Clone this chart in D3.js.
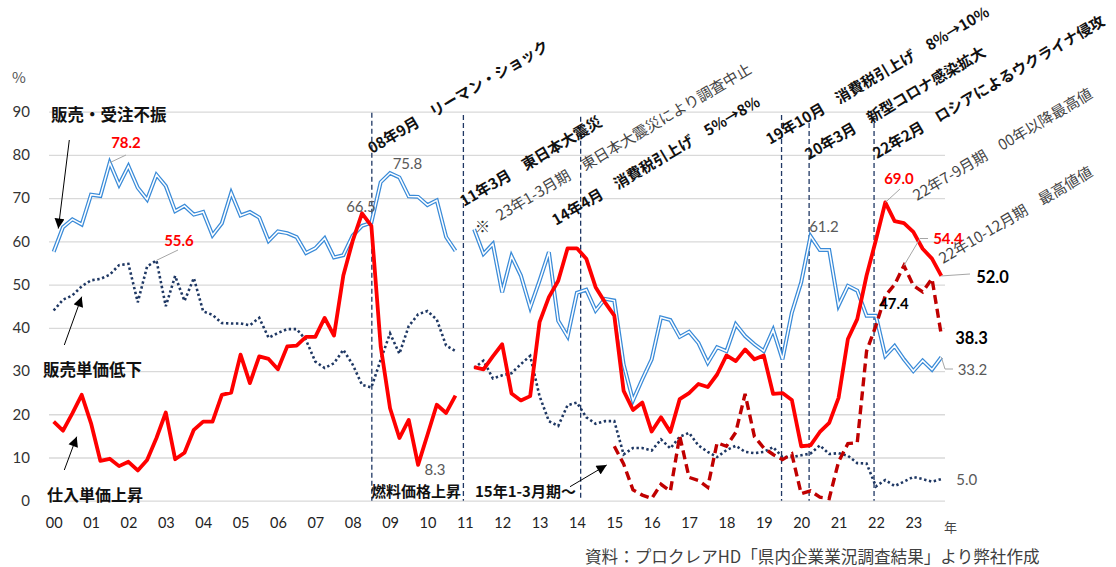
<!DOCTYPE html>
<html>
<head>
<meta charset="utf-8">
<script src="https://cdn.jsdelivr.net/npm/d3@7"></script>
<style>
  body { margin: 0; background: #fff; }
  svg { display: block; }
  text { font-family: "Noto Sans CJK JP", "Noto Sans", sans-serif; }
  .num { font-family: Lato, "Open Sans", sans-serif; }
</style>
</head>
<body>
<svg id="chart" width="1116" height="567"></svg>
<script>
// Quarterly survey results, 2000 Q1 – 2023 Q4 (96 quarters). null = survey not held (2011 Q1).
const years = ["00","01","02","03","04","05","06","07","08","09","10","11",
               "12","13","14","15","16","17","18","19","20","21","22","23"];
const yTicks = [0, 10, 20, 30, 40, 50, 60, 70, 80, 90];

// 販売・受注不振
const salesSlump = [
  57.6, 63.3, 65.1, 63.9, 70.8, 70.5, 78.2, 73.1, 77.4, 72.4,
  69.7, 75.4, 72.8, 67.0, 68.2, 66.2, 66.8, 61.4, 64.2, 71.2,
  66.0, 66.8, 65.5, 60.1, 62.3, 61.9, 61.0, 57.3, 58.4, 60.7,
  56.3, 56.8, 61.3, 63.6, 64.3, 73.7, 75.8, 74.8, 70.4, 70.3,
  68.4, 69.5, 61.0, 57.8, null, 62.8, 57.1, 59.4, 48.2, 56.6,
  52.1, 44.7, 50.9, 57.5, 41.6, 38.0, 48.1, 48.8, 44.0, 46.7,
  46.3, 31.5, 23.2, 28.1, 32.7, 42.4, 41.8, 37.9, 39.1, 36.5,
  31.9, 35.5, 34.6, 40.8, 38.1, 36.2, 34.6, 39.5, 32.7, 43.5,
  50.5, 61.2, 58.0, 58.0, 45.2, 49.7, 48.6, 42.8, 42.8, 33.5,
  35.8, 32.7, 30.0, 32.4, 30.3, 33.2
];

// 販売単価低下
const priceDrop = [
  44.0, 46.5, 47.5, 49.6, 51.0, 51.3, 52.3, 54.5, 54.8, 45.9,
  54.2, 55.6, 45.0, 52.0, 46.2, 51.5, 43.8, 43.0, 41.1, 41.0,
  41.0, 40.6, 42.3, 37.7, 38.8, 39.7, 39.7, 37.2, 32.2, 30.7,
  31.8, 34.9, 31.5, 26.8, 26.2, 32.6, 38.7, 34.0, 40.4, 43.1,
  43.9, 41.9, 35.9, 34.6, null, 30.7, 32.4, 28.3, 29.0, 29.5,
  31.6, 33.5, 24.2, 18.4, 17.3, 22.1, 22.7, 19.3, 17.8, 18.4,
  18.4, 10.7, 12.2, 12.2, 11.6, 14.2, 12.1, 14.8, 15.7, 12.8,
  11.3, 10.1, 11.7, 12.7, 11.3, 11.0, 11.3, 12.4, 10.1, 10.1,
  10.5, 10.9, 12.8, 10.8, 11.0, 10.4, 8.7, 8.6, 3.3, 4.8,
  3.4, 4.4, 5.5, 5.0, 4.4, 5.0
];

// 仕入単価上昇
const inputCost = [
  18.3, 16.2, 20.2, 24.5, 17.9, 9.2, 9.7, 8.0, 9.0, 7.0,
  9.4, 14.5, 20.4, 9.6, 11.1, 16.4, 18.3, 18.3, 24.5, 25.0,
  33.8, 27.2, 33.4, 32.8, 30.4, 35.7, 35.9, 37.9, 37.9, 42.3,
  38.2, 52.1, 60.1, 66.5, 63.6, 35.7, 21.4, 14.5, 18.7, 8.3,
  15.2, 22.2, 20.3, 24.3, null, 30.9, 30.4, 33.4, 36.2, 24.8,
  23.2, 24.2, 41.3, 47.1, 50.9, 58.4, 58.4, 56.0, 49.4, 45.9,
  42.8, 25.4, 21.0, 22.7, 16.0, 19.3, 15.9, 23.5, 24.9, 27.0,
  26.3, 29.2, 33.6, 32.3, 35.0, 32.7, 33.6, 24.7, 24.9, 23.3,
  12.6, 12.8, 15.9, 18.0, 23.8, 37.4, 42.0, 52.1, 60.3, 69.0,
  64.7, 64.2, 62.2, 58.3, 56.0, 52.0
];

// 仕入単価上昇（15年1-3月期～の系列）, first value is 2015 Q1
const inputCost15Start = 60;
const inputCost15 = [
  12.6, 8.5, 2.5, 1.3, 0.5, 3.8, 2.2, 15.0, 5.4, 4.7,
  3.1, 13.4, 12.6, 15.8, 24.7, 14.8, 12.2, 10.7, 9.5, 10.8,
  1.6, 2.3, 0.8, 0.5, 9.0, 13.2, 13.4, 34.6, 40.5, 47.4,
  50.0, 54.4, 49.8, 48.3, 51.4, 38.3
];

// Events, as a position in quarters counted from 2000 Q1
const eventQ = [34.05, 43.85, 56.4, 77.9, 80.85, 87.8];

const svg = d3.select("#chart");
const x = d3.scaleLinear().domain([-0.5, 95.5]).range([49, 946]);
const y = d3.scaleLinear().domain([0, 90]).range([500.7, 111.7]);

// ---- grid + y axis
const yAxis = svg.append("g")
  .attr("transform", "translate(49,0)")
  .call(d3.axisLeft(y).tickValues(yTicks).tickSize(-896).tickPadding(19).tickFormat(d3.format("d")));
yAxis.select(".domain").remove();
yAxis.selectAll(".tick line").attr("stroke", "#d9d9d9").attr("stroke-width", 1.3);
yAxis.selectAll(".tick text").attr("class", "num").attr("font-size", 15).attr("fill", "#333");

// ---- x axis (year labels at each Q1)
const xAxis = svg.append("g")
  .attr("transform", `translate(0,${y(0)})`)
  .call(d3.axisBottom(x).tickValues(d3.range(0, 96, 4)).tickSize(0).tickPadding(17)
        .tickFormat((d, i) => years[i]));
xAxis.select(".domain").remove();
xAxis.selectAll(".tick text").attr("class", "num").attr("font-size", 14.5).attr("fill", "#222");

svg.append("text").attr("x", 12).attr("y", 83).attr("font-size", 15).attr("fill", "#555").text("%");
svg.append("text").attr("x", 944).attr("y", 532).attr("font-size", 13).attr("fill", "#444").text("年");

// ---- event lines
const eventTop = [112.7, 115, 116.7, 115, 123, 123];
svg.append("g").selectAll("line").data(eventQ).join("line")
  .attr("x1", d => x(d)).attr("x2", d => x(d))
  .attr("y1", (d, i) => eventTop[i]).attr("y2", y(0))
  .attr("stroke", "#203864").attr("stroke-width", 1.3).attr("stroke-dasharray", "5,3");

// ---- series
const line = d3.line().defined(d => d[1] != null).x(d => x(d[0])).y(d => y(d[1]));
const pts = arr => arr.map((v, i) => [i, v]);

// double blue line
svg.append("path").datum(pts(salesSlump)).attr("d", line)
  .attr("fill", "none").attr("stroke", "#3a8bd8").attr("stroke-width", 4).attr("stroke-linejoin", "miter");
svg.append("path").datum(pts(salesSlump)).attr("d", line)
  .attr("fill", "none").attr("stroke", "#fff").attr("stroke-width", 1.5).attr("stroke-linejoin", "miter");

svg.append("path").datum(pts(priceDrop)).attr("d", line)
  .attr("fill", "none").attr("stroke", "#1f3864").attr("stroke-width", 2.6)
  .attr("stroke-dasharray", "2.4,2.6");

svg.append("path").datum(pts(inputCost)).attr("d", line)
  .attr("fill", "none").attr("stroke", "#ff0000").attr("stroke-width", 3.8).attr("stroke-linejoin", "round");

svg.append("path").datum(inputCost15.map((v, i) => [i + inputCost15Start, v])).attr("d", line)
  .attr("fill", "none").attr("stroke", "#c00000").attr("stroke-width", 3.4)
  .attr("stroke-dasharray", "9,5");

// ---- arrows
const defs = svg.append("defs");
defs.append("marker").attr("id", "ah").attr("viewBox", "0 0 10 10")
  .attr("refX", 10).attr("refY", 5).attr("markerWidth", 11).attr("markerHeight", 10)
  .attr("markerUnits", "userSpaceOnUse").attr("orient", "auto")
  .append("path").attr("d", "M0,0 L10,5 L0,10 Z").attr("fill", "#000");

const arrows = [
  [69.3, 140, 58.3, 228.5],
  [64.3, 345, 81.7, 296.7],
  [64.3, 470, 76.7, 436.7],
  [570, 486.7, 606.7, 465]
];
svg.append("g").selectAll("line").data(arrows).join("line")
  .attr("x1", d => d[0]).attr("y1", d => d[1]).attr("x2", d => d[2]).attr("y2", d => d[3])
  .attr("stroke", "#000").attr("stroke-width", 1).attr("marker-end", "url(#ah)");

// ---- series names
const names = [
  ["販売・受注不振", 51, 113.5, 16.5],
  ["販売単価低下", 43, 369, 16.5],
  ["仕入単価上昇", 47, 494, 16],
  ["燃料価格上昇", 371, 490.5, 15],
  ["15年1-3月期～", 475, 490.5, 15]
];
svg.append("g").selectAll("text").data(names).join("text")
  .attr("x", d => d[1]).attr("y", d => d[2]).attr("dominant-baseline", "central")
  .attr("font-size", d => d[3]).attr("font-weight", 700).attr("fill", "#111")
  .text(d => d[0]);

// ---- rotated event notes
const notes = [
  ["08年9月　リーマン・ショック", 372, 154, true],
  ["11年3月　東日本大震災", 464, 207, true],
  ["23年1-3月期　東日本大震災により調査中止", 500, 221, false],
  ["14年4月　消費税引上げ　5%→8%", 556, 226, true],
  ["19年10月　消費税引上げ　8%→10%", 770, 145, true],
  ["20年3月　新型コロナ感染拡大", 809, 160, true],
  ["22年2月　ロシアによるウクライナ侵攻", 877, 159, true],
  ["22年7-9月期　00年以降最高値", 917, 201, false],
  ["22年10-12月期　最高値値", 943, 264, false]
];
svg.append("g").selectAll("text").data(notes).join("text")
  .attr("transform", d => `translate(${d[1]},${d[2]}) rotate(-30.5)`)
  .attr("font-size", 15).attr("font-weight", d => d[3] ? 700 : 400)
  .attr("fill", d => d[3] ? "#111" : "#444")
  .text(d => d[0]);
svg.append("text").attr("x", 475).attr("y", 232).attr("font-size", 15).attr("fill", "#333").text("※");

// ---- leader lines
const leaders = [
  [[x(6), y(salesSlump[6])], [126, 155]],
  [[x(11), y(priceDrop[11])], [178, 250]],
  [[x(89), y(inputCost[89])], [900, 189]],
  [[x(91), y(inputCost15[91 - inputCost15Start])], [920, 238.5], [928, 238.5]],
  [[x(95), y(inputCost[95])], [970, 274]],
  [[x(95), y(salesSlump[95])], [945, 369], [953, 369]]
];
svg.append("g").selectAll("path").data(leaders).join("path")
  .attr("d", d => d3.line()(d)).attr("fill", "none")
  .attr("stroke", "#a6a6a6").attr("stroke-width", 1);

// ---- value labels
const fmt = d3.format(".1f");
const valueLabels = [
  [salesSlump[6], 126, 141.7, "#ff0000", 700, 15],
  [priceDrop[11], 179, 240, "#ff0000", 700, 15],
  [inputCost[33], 361, 206, "#595959", 400, 15],
  [salesSlump[36], 407.5, 163, "#595959", 400, 15],
  [inputCost[39], 435, 469, "#595959", 400, 15],
  [salesSlump[81], 824, 225.5, "#595959", 400, 15],
  [inputCost[89], 899, 177.5, "#ff0000", 700, 15],
  [inputCost15[91 - inputCost15Start], 948, 238, "#ff0000", 700, 15],
  [inputCost[95], 992.5, 276.7, "#000", 700, 16.5],
  [inputCost15[89 - inputCost15Start], 894, 302.5, "#000", 700, 15],
  [inputCost15[95 - inputCost15Start], 971.5, 338.3, "#000", 700, 16.5],
  [salesSlump[95], 972.5, 369, "#595959", 400, 15],
  [priceDrop[95], 966.7, 479, "#595959", 400, 15]
];
svg.append("g").selectAll("text").data(valueLabels).join("text")
  .attr("class", "num")
  .attr("x", d => d[1]).attr("y", d => d[2])
  .attr("text-anchor", "middle").attr("dominant-baseline", "central")
  .attr("fill", d => d[3]).attr("font-weight", d => d[4]).attr("font-size", d => d[5])
  .text(d => fmt(d[0]));

// ---- source
svg.append("text").attr("x", 585).attr("y", 563).attr("font-size", 16.6).attr("fill", "#404040")
  .text("資料：プロクレアHD「県内企業業況調査結果」より弊社作成");
</script>
</body>
</html>
